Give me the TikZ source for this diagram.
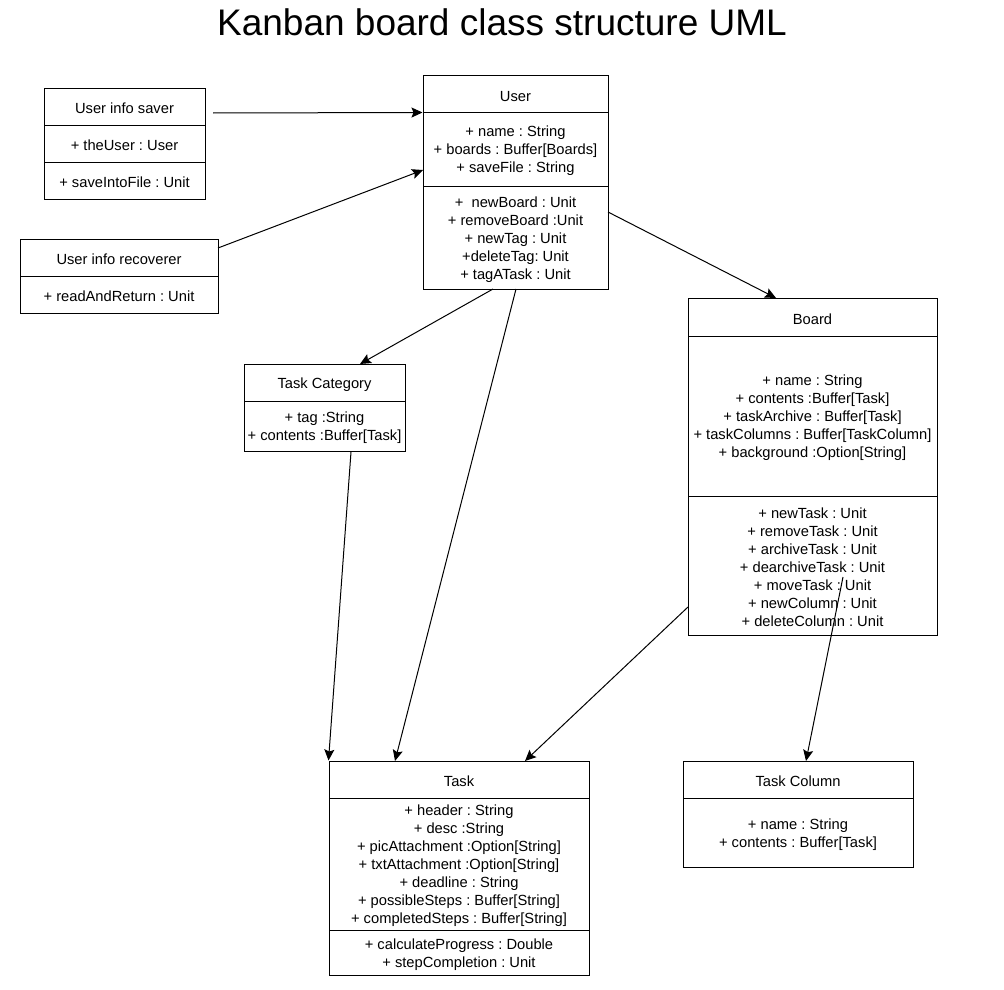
\documentclass[tikz,border=0pt]{standalone}
\usepackage{fontspec}
\setmainfont{Liberation Sans}
\usetikzlibrary{arrows.meta}
\frenchspacing
\newcommand{\topstrut}{\rule{0pt}{14.5pt}}
\begin{document}
\begin{tikzpicture}[x=1pt, y=-1pt,
  box/.style={draw, line width=1pt, inner sep=0pt, align=center, font=\fontsize{14.7}{18}\selectfont},
  arr/.style={line width=1pt, -{Stealth[length=11pt, width=10pt, inset=2pt]}}]
\useasboundingbox (0,0) rectangle (1004,990);
\node[font=\fontsize{37}{42}\selectfont] (title) at (502,22) {Kanban board class structure UML};
% user info saver
\node[box, minimum width=161, minimum height=37] (saverT) at (124.5,106.5) {\topstrut User info saver};
\node[box, minimum width=161, minimum height=37] (saverA) at (124.5,143.5) {\topstrut + theUser : User};
\node[box, minimum width=161, minimum height=37] (saverM) at (124.5,180.5) {\topstrut + saveIntoFile : Unit};
% user info recoverer
\node[box, minimum width=198, minimum height=37] (recT) at (119,257.5) {\topstrut User info recoverer};
\node[box, minimum width=198, minimum height=37] (recA) at (119,294.5) {\topstrut + readAndReturn : Unit};
% user
\node[box, minimum width=185, minimum height=36] (userT) at (515.5,94) {\topstrut User};
\node[box, minimum width=185, minimum height=74] (userA) at (515.5,149) {\topstrut + name : String\\+ boards : Buffer[Boards]\\+ saveFile : String};
\node[box, minimum width=185, minimum height=103] (userM) at (515.5,237.5) {\topstrut + \ newBoard : Unit\\+ removeBoard :Unit\\+ newTag : Unit\\+deleteTag: Unit\\+ tagATask : Unit};
% board
\node[box, minimum width=249, minimum height=38] (boardT) at (812.5,317) {\topstrut Board};
\node[box, minimum width=249, minimum height=160] (boardA) at (812.5,416) {\topstrut + name : String\\+ contents :Buffer[Task]\\+ taskArchive : Buffer[Task]\\+ taskColumns : Buffer[TaskColumn]\\+ background :Option[String]};
\node[box, minimum width=249, minimum height=139] (boardM) at (812.5,565.5) {\topstrut + newTask : Unit\\+ removeTask : Unit\\+ archiveTask : Unit\\+ dearchiveTask : Unit\\+ moveTask : Unit\\+ newColumn : Unit\\+ deleteColumn : Unit};
% task category
\node[box, minimum width=161, minimum height=37] (catT) at (324.5,382.5) {\topstrut Task Category};
\node[box, minimum width=161, minimum height=50] (catA) at (324.5,426) {\topstrut + tag :String\\+ contents :Buffer[Task]};
% task
\node[box, minimum width=260, minimum height=37] (taskT) at (459,779.5) {\topstrut Task};
\node[box, minimum width=260, minimum height=132] (taskA) at (459,864) {\topstrut + header : String\\+ desc :String\\+ picAttachment :Option[String]\\+ txtAttachment :Option[String]\\+ deadline : String\\+ possibleSteps : Buffer[String]\\+ completedSteps : Buffer[String]};
\node[box, minimum width=260, minimum height=45] (taskM) at (459,952.5) {\topstrut + calculateProgress : Double\\+ stepCompletion : Unit};
% task column
\node[box, minimum width=230, minimum height=37] (colT) at (798,779.5) {\topstrut Task Column};
\node[box, minimum width=230, minimum height=69] (colA) at (798,832.5) {\topstrut + name : String\\+ contents : Buffer[Task]};
% connector ends
\coordinate (saverOut) at (213,113);
\coordinate (recOut) at (218,248);
\coordinate (userIn) at (423,170);
\coordinate (userOut) at (608,212);
\coordinate (boardIn) at (776,298);
\coordinate (userOutA) at (493,289);
\coordinate (catIn) at (360,364);
\coordinate (userOutB) at (516,289);
\coordinate (taskInA) at (395,761);
\coordinate (catOut) at (351,452);
\coordinate (boardOut) at (688,607);
\coordinate (taskInB) at (525,761);
\coordinate (boardOutB) at (843,577);
\coordinate (colIn) at (806,761);
\draw[arr] (saverOut) -- (userT.south west);
\draw[arr] (recOut) -- (userIn);
\draw[arr] (userOut) -- (boardIn);
\draw[arr] (userOutA) -- (catIn);
\draw[arr] (userOutB) -- (taskInA);
\draw[arr] (catOut) -- (taskT.north west);
\draw[arr] (boardOut) -- (taskInB);
\draw[arr] (boardOutB) -- (colIn);
\end{tikzpicture}
\end{document}
